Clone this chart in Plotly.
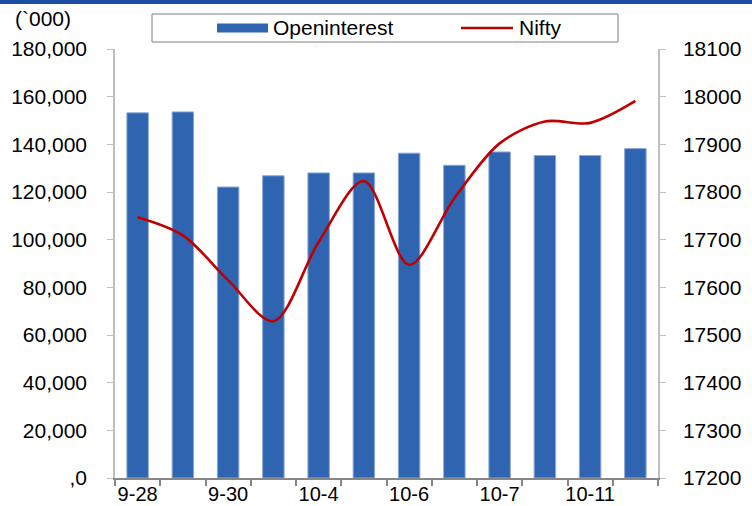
import plotly.graph_objects as go

# ---- data ----
categories = ["9-28", "9-29", "9-30", "10-1", "10-4", "10-5",
              "10-6", "10-6b", "10-7", "10-8", "10-11", "10-12"]
shown_labels = ["9-28", "", "9-30", "", "10-4", "", "10-6", "", "10-7", "", "10-11", ""]
open_interest = [153200, 153600, 122100, 126800, 128000, 128000,
                 136300, 131200, 136800, 135300, 135300, 138200]
nifty = [17747, 17709, 17615, 17529, 17695, 17823,
         17647, 17787, 17902, 17948, 17945, 17991]
left_ticks = [0, 20000, 40000, 60000, 80000, 100000, 120000, 140000, 160000, 180000]
left_ticktext = [",0", "20,000", "40,000", "60,000", "80,000", "100,000",
                 "120,000", "140,000", "160,000", "180,000"]
right_ticks = [17200, 17300, 17400, 17500, 17600, 17700, 17800, 17900, 18000, 18100]

W, H = 752, 506
ML, MR, MT, MB = 115, 94, 49, 28
FONT = "Liberation Sans, Arial, sans-serif"
FS = 21

xs = list(range(len(categories)))
label_pos = [i for i, t in enumerate(shown_labels) if t]
label_txt = [shown_labels[i] for i in label_pos]

fig = go.Figure()
fig.add_trace(go.Bar(
    x=xs, y=open_interest, name="Openinterest", width=0.475,
    marker=dict(color="#2E64B0", line=dict(color="#8EA9D8", width=1)),
    yaxis="y", showlegend=False))
fig.add_trace(go.Scatter(
    x=xs, y=nifty, name="Nifty", mode="lines",
    line=dict(color="#C00000", width=2.6, shape="spline", smoothing=0.9),
    yaxis="y2", showlegend=False))

fig.update_layout(
    width=W, height=H,
    margin=dict(l=ML, r=MR, t=MT, b=MB, autoexpand=False),
    paper_bgcolor="white", plot_bgcolor="white",
    font=dict(family=FONT, size=FS, color="#000000"),
    xaxis=dict(
        range=[-0.5, len(categories) - 0.5],
        tickmode="array", tickvals=label_pos, ticktext=label_txt,
        ticks="", showgrid=False, zeroline=False,
        showline=True, linecolor="#868686", linewidth=2,
        tickfont=dict(size=20), ticklabelstandoff=-3,
        minor=dict(tickmode="linear", tick0=-0.5, dtick=1, ticks="outside",
                   ticklen=6, tickwidth=2, tickcolor="#868686", showgrid=False),
    ),
    yaxis=dict(
        range=[0, 180000], tickmode="array", tickvals=left_ticks, ticktext=left_ticktext,
        showgrid=False, zeroline=False, showline=True, linecolor="#BFBFBF", linewidth=1.5,
        ticks="outside", ticklen=6, tickcolor="#BFBFBF", tickwidth=1,
        tickfont=dict(size=FS), ticklabelstandoff=16,
    ),
    yaxis2=dict(
        range=[17200, 18100], tickmode="array", tickvals=right_ticks, tickformat="d",
        overlaying="y", side="right",
        showgrid=False, zeroline=False, showline=True, linecolor="#BFBFBF", linewidth=1.5,
        ticks="outside", ticklen=6, tickcolor="#BFBFBF", tickwidth=1,
        tickfont=dict(size=FS), ticklabelstandoff=13,
    ),
    showlegend=False,
)

def px(x):
    return (x - ML) / (W - ML - MR)

def py(y):
    return (H - MB - y) / (H - MT - MB)

shapes = [
    # top blue band
    dict(type="rect", xref="paper", yref="paper", x0=px(0), x1=px(W), y0=py(0), y1=py(4),
         fillcolor="#1A4FA3", line=dict(width=0), layer="above"),
    # legend box
    dict(type="rect", xref="paper", yref="paper", x0=px(152), x1=px(618), y0=py(14), y1=py(42),
         fillcolor="white", line=dict(color="#7F7F7F", width=1), layer="above"),
    # legend swatch bars
    dict(type="rect", xref="paper", yref="paper", x0=px(217), x1=px(268), y0=py(23.5), y1=py(32.5),
         fillcolor="#2E64B0", line=dict(width=0), layer="above"),
    # legend swatch line
    dict(type="line", xref="paper", yref="paper", x0=px(461), x1=px(513), y0=py(28), y1=py(28),
         line=dict(color="#C00000", width=2.6), layer="above"),
]
annotations = [
    dict(text="Openinterest", xref="paper", yref="paper", x=px(271), y=py(28),
         xanchor="left", yanchor="middle", showarrow=False, font=dict(size=FS)),
    dict(text="Nifty", xref="paper", yref="paper", x=px(517), y=py(28),
         xanchor="left", yanchor="middle", showarrow=False, font=dict(size=FS)),
    dict(text="(`000)", xref="paper", yref="paper", x=px(73), y=py(19),
         xanchor="right", yanchor="middle", showarrow=False, font=dict(size=FS)),
]
fig.update_layout(shapes=shapes, annotations=annotations)

fig.write_html("out.html", config={"displayModeBar": False},
               post_script="document.body.style.margin='0px';document.body.style.padding='0px';")
